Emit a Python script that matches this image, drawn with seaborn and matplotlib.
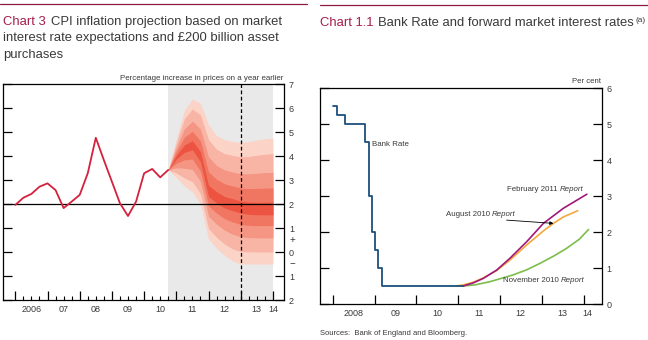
import matplotlib
matplotlib.use("Agg")
import matplotlib.pyplot as plt
import matplotlib.lines as mlines
import matplotlib.transforms as mtrans
import pandas as pd
import seaborn as sns

# ---------------- Chart 3 data ----------------
cpi_dates = [2006.00, 2006.25, 2006.50, 2006.75, 2007.00, 2007.25, 2007.50, 2007.75,
             2008.00, 2008.25, 2008.50, 2008.75, 2009.00, 2009.25, 2009.50, 2009.75,
             2010.00, 2010.25, 2010.50, 2010.75]
cpi_values = [1.96, 2.26, 2.42, 2.72, 2.86, 2.58, 1.83, 2.10, 2.38, 3.28,
              4.76, 3.83, 2.93, 2.03, 1.50, 2.10, 3.28, 3.46, 3.11, 3.42]

fan_dates = [2010.75, 2011.00, 2011.25, 2011.50, 2011.75, 2012.00, 2012.25,
             2012.50, 2012.75, 2013.00, 2013.25, 2013.50, 2013.75, 2014.00]
fan_upper_90 = [3.42, 4.70, 5.90, 6.38, 6.20, 5.30, 4.85, 4.68, 4.60, 4.57, 4.60, 4.67, 4.72, 4.75]
fan_upper_70 = [3.42, 4.54, 5.55, 5.96, 5.71, 4.68, 4.28, 4.10, 4.02, 3.97, 3.98, 4.03, 4.07, 4.10]
fan_upper_50 = [3.42, 4.34, 5.13, 5.45, 5.12, 3.96, 3.60, 3.42, 3.33, 3.26, 3.26, 3.28, 3.31, 3.32]
fan_upper_30 = [3.42, 4.18, 4.78, 5.03, 4.63, 3.34, 3.03, 2.84, 2.75, 2.67, 2.64, 2.65, 2.66, 2.67]
fan_upper_10 = [3.42, 4.03, 4.46, 4.64, 4.18, 2.78, 2.51, 2.31, 2.22, 2.12, 2.08, 2.07, 2.07, 2.08]
fan_lower_10 = [3.42, 3.87, 4.15, 4.26, 3.76, 2.31, 2.04, 1.83, 1.72, 1.62, 1.57, 1.55, 1.55, 1.55]
fan_lower_30 = [3.42, 3.70, 3.84, 3.87, 3.37, 1.92, 1.62, 1.39, 1.25, 1.15, 1.11, 1.10, 1.10, 1.10]
fan_lower_50 = [3.42, 3.51, 3.49, 3.44, 2.94, 1.49, 1.16, 0.91, 0.74, 0.63, 0.60, 0.59, 0.59, 0.59]
fan_lower_70 = [3.42, 3.29, 3.09, 2.93, 2.43, 0.98, 0.61, 0.33, 0.13, 0.02, 0.01, 0.00, 0.00, 0.00]
fan_lower_90 = [3.42, 3.10, 2.75, 2.50, 2.00, 0.55, 0.15, -0.15, -0.38, -0.50, -0.50, -0.50, -0.50, -0.50]

projection_start = 2010.75
projection_end = 2014.00
two_year_point = 2013.00
inflation_target = 2.0

left_year_ticks = [2006, 2007, 2008, 2009, 2010, 2011, 2012, 2013, 2014]
left_year_labels = ["2006", "07", "08", "09", "10", "11", "12", "13", "14"]
left_label_pos = [2006.5, 2007.5, 2008.5, 2009.5, 2010.5, 2011.5, 2012.5, 2013.5, 2014.0]
left_y_ticks = [-2, -1, 0, 1, 2, 3, 4, 5, 6, 7]
left_y_labels = ["2", "1", "0", "1", "2", "3", "4", "5", "6", "7"]

# ---------------- Chart 1.1 data ----------------
bank_dates = [2008.00, 2008.10, 2008.29, 2008.77, 2008.86, 2008.93, 2009.00, 2009.09, 2009.18, 2011.12]
bank_rate = [5.50, 5.25, 5.00, 4.50, 3.00, 2.00, 1.50, 1.00, 0.50, 0.50]

feb11_dates = [2011.12, 2011.35, 2011.60, 2011.92, 2012.24, 2012.64, 2013.04, 2013.52, 2014.08]
feb11_rates = [0.50, 0.58, 0.71, 0.94, 1.27, 1.73, 2.24, 2.66, 3.05]
aug10_dates = [2010.95, 2011.12, 2011.35, 2011.60, 2011.92, 2012.24, 2012.64, 2013.04, 2013.28, 2013.52, 2013.86]
aug10_rates = [0.50, 0.53, 0.60, 0.72, 0.93, 1.22, 1.64, 2.03, 2.24, 2.42, 2.59]
nov10_dates = [2011.12, 2011.40, 2011.76, 2012.00, 2012.32, 2012.64, 2012.96, 2013.30, 2013.60, 2013.90, 2014.12]
nov10_rates = [0.50, 0.53, 0.62, 0.70, 0.81, 0.95, 1.13, 1.34, 1.55, 1.80, 2.07]

right_year_ticks = [2008, 2009, 2010, 2011, 2012, 2013, 2014]
right_year_labels = ["2008", "09", "10", "11", "12", "13", "14"]
right_label_pos = [2008.5, 2009.5, 2010.5, 2011.5, 2012.5, 2013.5, 2014.1]
right_y_ticks = [0, 1, 2, 3, 4, 5, 6]

# ---------------- style ----------------
sns.set_theme(style="white")
plt.rcParams["font.family"] = ["Liberation Sans", "DejaVu Sans"]
W, H = 648, 340
fig = plt.figure(figsize=(W / 100, H / 100), dpi=100)
fig.patch.set_facecolor("white")

MAROON = "#8c1a45"
TITLE_RED = "#a51d4b"
TXT = "#3a3a3a"
CPI_RED = "#d4213d"
fan_colors = ["#fbd3c7", "#f8b4a4", "#f59583", "#f17662", "#ec5441"]

def fx(px):
    return px / W

def fy(py):
    return 1 - py / H

# ====== Left panel ======
ax1 = fig.add_axes([fx(3), fy(300), (284 - 3) / W, 216 / H])
ax1.set_xlim(2005.618, 2014.344)
ax1.set_ylim(-2, 7)
ax1.axvspan(projection_start, projection_end, color="#e9e9e9", lw=0, zorder=0)
bands = [(fan_lower_90, fan_upper_90), (fan_lower_70, fan_upper_70), (fan_lower_50, fan_upper_50),
         (fan_lower_30, fan_upper_30), (fan_lower_10, fan_upper_10)]
for (lo, hi), c in zip(bands, fan_colors):
    ax1.fill_between(fan_dates, lo, hi, color=c, lw=0, zorder=1)
ax1.axhline(inflation_target, color="black", lw=0.9, zorder=2)
ax1.axvline(two_year_point, color="black", lw=0.9, ls=(0, (3, 2)), zorder=3)
cpi_df = pd.DataFrame({"date": cpi_dates, "cpi": cpi_values})
sns.lineplot(data=cpi_df, x="date", y="cpi", ax=ax1, color=CPI_RED, lw=1.3, zorder=4)
ax1.set_xlabel("")
ax1.set_ylabel("")
ax1.set_xticks(left_year_ticks)
ax1.set_xticks([y + q for y in range(2006, 2014) for q in (0.25, 0.5, 0.75)], minor=True)
ax1.tick_params(axis="x", which="major", direction="in", length=6.5, width=0.9, color="black",
                labelbottom=False, bottom=True)
ax1.tick_params(axis="x", which="minor", direction="in", length=3, width=0.8, color="black", bottom=True)
ax1.set_yticks(left_y_ticks)
ax1.set_yticklabels(left_y_labels)
ax1.tick_params(axis="y", which="major", direction="in", length=6.5, width=0.9, color="black",
                left=True, right=True, labelleft=False, labelright=True, labelsize=6.5,
                labelcolor=TXT, pad=3.5)
for x, lab in zip(left_label_pos, left_year_labels):
    ax1.text(x, -0.042, lab, transform=ax1.get_xaxis_transform(), ha="center", va="center",
             fontsize=6.5, color=TXT)
ax1.text(1.0 + 6 / 281, 0.5, "+", transform=ax1.get_yaxis_transform(), ha="left", va="center",
         fontsize=7, color=TXT)
ax1.text(1.0 + 6 / 281, -0.5, "\u2212", transform=ax1.get_yaxis_transform(), ha="left", va="center",
         fontsize=7, color=TXT)
for s in ax1.spines.values():
    s.set_color("black")
    s.set_linewidth(0.9)
    s.set_visible(True)

# ====== Right panel ======
ax2 = fig.add_axes([fx(320), fy(304), (601.7 - 320) / W, 216 / H])
ax2.set_xlim(2007.696, 2014.435)
ax2.set_ylim(0, 6)
fwd = pd.concat([
    pd.DataFrame({"date": aug10_dates, "rate": aug10_rates, "report": "Aug"}),
    pd.DataFrame({"date": nov10_dates, "rate": nov10_rates, "report": "Nov"}),
    pd.DataFrame({"date": feb11_dates, "rate": feb11_rates, "report": "Feb"}),
])
sns.lineplot(data=fwd, x="date", y="rate", hue="report", ax=ax2, lw=1.2, legend=False,
             palette={"Aug": "#f5a83a", "Nov": "#7cbd4b", "Feb": "#a0197a"},
             hue_order=["Nov", "Aug", "Feb"], estimator=None, sort=False)
bank_df = pd.DataFrame({"date": bank_dates, "rate": bank_rate})
sns.lineplot(data=bank_df, x="date", y="rate", ax=ax2, color="#1d4f7c", lw=1.3,
             drawstyle="steps-post", estimator=None, sort=False, zorder=5)
ax2.set_xlabel("")
ax2.set_ylabel("")
ax2.set_xticks(right_year_ticks)
ax2.tick_params(axis="x", which="major", direction="in", length=6.5, width=0.9, color="black",
                labelbottom=False, bottom=True)
ax2.set_yticks(right_y_ticks)
ax2.set_yticklabels([str(v) for v in right_y_ticks])
ax2.tick_params(axis="y", which="major", direction="in", length=6.5, width=0.9, color="black",
                left=True, right=True, labelleft=False, labelright=True, labelsize=6.5,
                labelcolor=TXT, pad=3.5)
for x, lab in zip(right_label_pos, right_year_labels):
    ax2.text(x, -0.043, lab, transform=ax2.get_xaxis_transform(), ha="center", va="center",
             fontsize=6.5, color=TXT)
for s in ax2.spines.values():
    s.set_color("black")
    s.set_linewidth(0.9)
    s.set_visible(True)

renderer = fig.canvas.get_renderer()
ANN = 5.7

def mixed(ax, x, y, normal, italic, ha="left", gap=2.2):
    t1 = ax.text(x, y, normal, ha="left", va="center", fontsize=ANN, color=TXT)
    t2 = ax.text(x, y, italic, ha="left", va="center", fontsize=ANN, color=TXT, style="italic")
    w1 = t1.get_window_extent(renderer).width
    w2 = t2.get_window_extent(renderer).width
    start = 0 if ha == "left" else -(w1 + gap + w2)
    t1.set_transform(mtrans.offset_copy(ax.transData, fig=fig, x=start, y=0, units="dots"))
    t2.set_transform(mtrans.offset_copy(ax.transData, fig=fig, x=start + w1 + gap, y=0, units="dots"))

ax2.text(2008.95, 4.42, "Bank Rate", ha="left", va="center", fontsize=ANN, color=TXT)
mixed(ax2, 2014.01, 3.17, "February 2011", "Report", ha="right")
mixed(ax2, 2010.71, 2.50, "August 2010", "Report")
mixed(ax2, 2012.08, 0.65, "November 2010", "Report")
ax2.annotate("", xy=(2013.28, 2.24), xytext=(2012.16, 2.33),
             arrowprops=dict(arrowstyle="-|>", color="black", lw=0.6, mutation_scale=5,
                             shrinkA=0, shrinkB=0))

# ====== titles, rules, notes ======
fig.add_artist(mlines.Line2D([fx(0), fx(307)], [fy(4.3), fy(4.3)], color=MAROON, lw=0.9))
fig.add_artist(mlines.Line2D([fx(320), fx(648)], [fy(5), fy(5)], color=MAROON, lw=0.9))

TFS = 9.4

def two_part(xpx, ypx, head, rest_lines, gap=5, lead=16.5):
    t = fig.text(fx(xpx), fy(ypx), head, color=TITLE_RED, fontsize=TFS, va="baseline", ha="left")
    bb = t.get_window_extent(renderer)
    t_last = fig.text(fx(bb.x1 + gap), fy(ypx), rest_lines[0], color=TXT, fontsize=TFS,
                      va="baseline", ha="left")
    for i, line in enumerate(rest_lines[1:], start=1):
        fig.text(fx(xpx), fy(ypx + lead * i), line, color=TXT, fontsize=TFS, va="baseline", ha="left")
    return t_last

two_part(3, 25, "Chart 3", ["CPI inflation projection based on market",
                            "interest rate expectations and \u00a3200 billion asset",
                            "purchases"])
t3 = two_part(320, 26, "Chart 1.1", ["Bank Rate and forward market interest rates"])
bb3 = t3.get_window_extent(renderer)
fig.text(fx(bb3.x1 + 1), fy(22), "(a)", color=TXT, fontsize=6, va="baseline", ha="left")

fig.text(fx(283), fy(80), "Percentage increase in prices on a year earlier", color=TXT,
         fontsize=5.7, ha="right", va="baseline")
fig.text(fx(601), fy(83), "Per cent", color=TXT, fontsize=5.6, ha="right", va="baseline")
fig.text(fx(320), fy(335), "Sources:  Bank of England and Bloomberg.", color=TXT,
         fontsize=5.5, ha="left", va="baseline")

fig.savefig("out.png", dpi=100, facecolor="white")
